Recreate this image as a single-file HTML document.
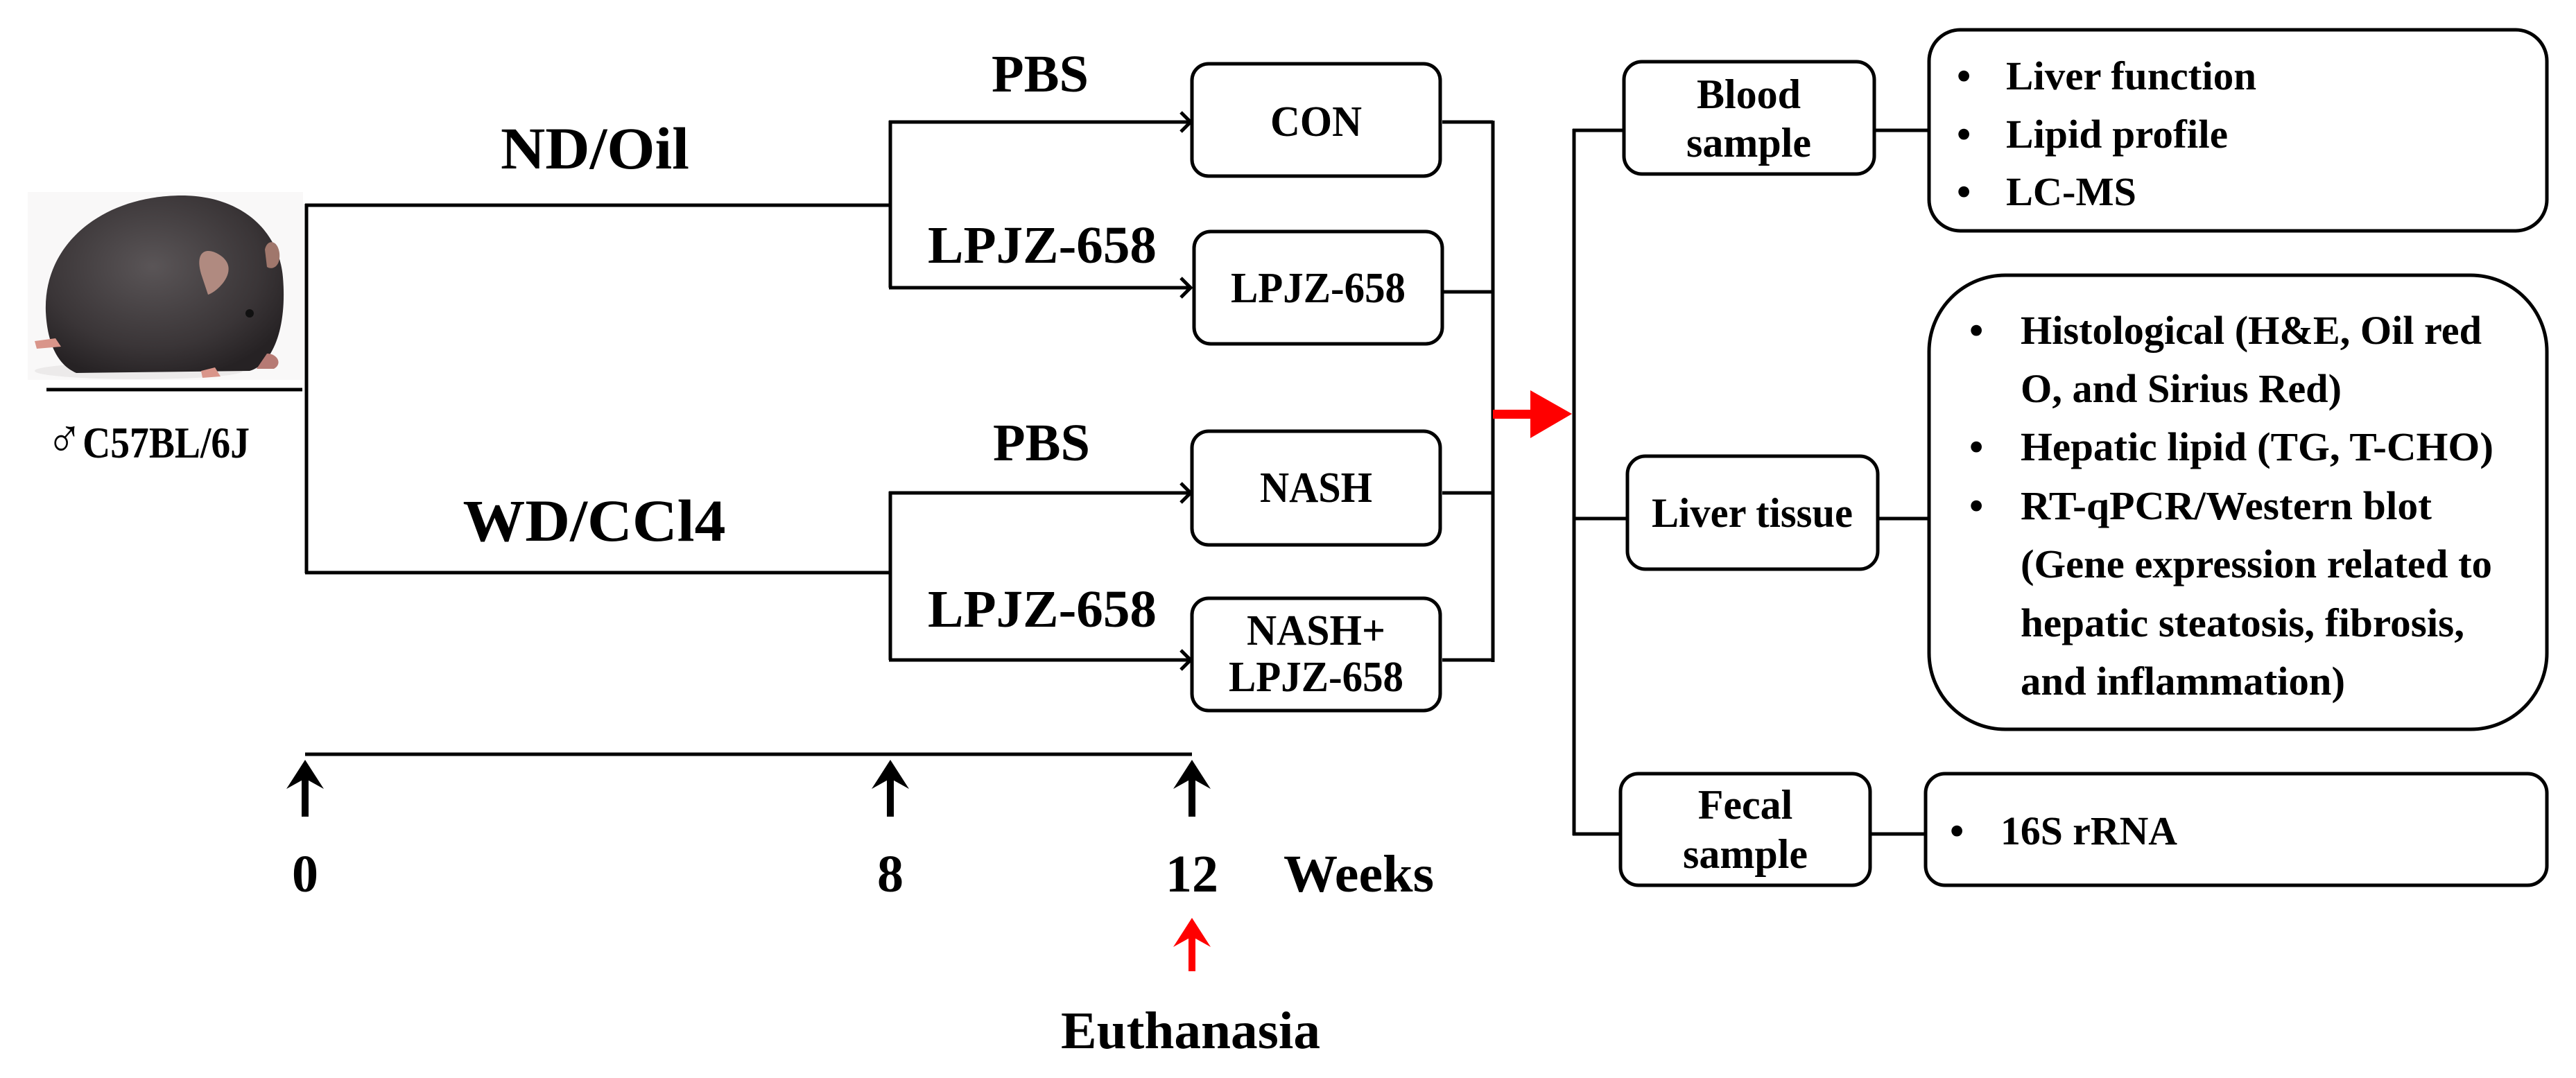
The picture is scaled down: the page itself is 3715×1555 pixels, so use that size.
<!DOCTYPE html>
<html><head><meta charset="utf-8"><style>
html,body{margin:0;padding:0;background:#fff;}
svg{display:block;}
text{font-family:"Liberation Serif",serif;font-weight:bold;fill:#000;}
</style></head><body>
<svg width="3715" height="1555" viewBox="0 0 3715 1555" xmlns="http://www.w3.org/2000/svg">
<defs>
<radialGradient id="fur" cx="0.45" cy="0.4" r="0.65">
<stop offset="0" stop-color="#5a5557"/><stop offset="0.7" stop-color="#3a3537"/><stop offset="1" stop-color="#262224"/>
</radialGradient>
</defs>
<!-- mouse -->
<rect x="40" y="277" width="397" height="271" fill="#f9f8f8"/>
<ellipse cx="200" cy="535" rx="150" ry="12" fill="#eceaea"/>
<path d="M66 450 C 62 350 150 282 262 282 C 345 282 402 330 408 400 C 414 470 395 525 360 535 L 110 538 C 80 525 68 490 66 450 Z" fill="url(#fur)"/>
<path d="M290 395 C 280 360 300 355 320 370 C 345 390 315 420 300 425 Z" fill="#b08a80"/>
<path d="M382 360 C 385 345 400 345 403 365 C 405 385 392 390 385 385 Z" fill="#a0776c"/>
<circle cx="360" cy="452" r="6" fill="#111"/>
<path d="M50 492 L 80 488 L 88 500 L 53 503 Z" fill="#d9958a"/>
<path d="M290 535 L 310 530 L 318 543 L 292 545 Z" fill="#d9958a"/>
<path d="M385 510 C 400 510 408 525 395 532 L 370 532 Z" fill="#b67a74"/>
<!-- left -->
<line x1="67" y1="562" x2="436" y2="562" stroke="#000" stroke-width="5"/>
<text x="67" y="660" font-size="64" textLength="293" lengthAdjust="spacingAndGlyphs"><tspan font-size="80" font-weight="normal">♂</tspan>C57BL/6J</text>
<g stroke="#000" stroke-width="5" fill="none">
<line x1="442" y1="294" x2="442" y2="827"/>
<line x1="440" y1="296" x2="1284" y2="296"/>
<line x1="440" y1="826" x2="1284" y2="826"/>
<line x1="1284" y1="174" x2="1284" y2="415"/>
<line x1="1284" y1="709" x2="1284" y2="952"/>
<line x1="1282" y1="176" x2="1717" y2="176"/>
<line x1="1282" y1="415" x2="1717" y2="415"/>
<line x1="1282" y1="711" x2="1717" y2="711"/>
<line x1="1282" y1="952" x2="1717" y2="952"/>
<polyline points="1703,162 1717,176 1703,190"/>
<polyline points="1703,401 1717,415 1703,429"/>
<polyline points="1703,697 1717,711 1703,725"/>
<polyline points="1703,938 1717,952 1703,966"/>
<rect x="1719" y="92" width="358" height="162" rx="24"/>
<rect x="1722" y="334" width="358" height="162" rx="24"/>
<rect x="1719" y="622" width="358" height="164" rx="24"/>
<rect x="1719" y="863" width="358" height="162" rx="24"/>
<line x1="2080" y1="176" x2="2153" y2="176"/>
<line x1="2082" y1="421" x2="2153" y2="421"/>
<line x1="2080" y1="711" x2="2153" y2="711"/>
<line x1="2080" y1="952" x2="2153" y2="952"/>
<line x1="2153" y1="174" x2="2153" y2="955"/>
<line x1="440" y1="1088" x2="1719" y2="1088"/>
<line x1="2270" y1="186" x2="2270" y2="1205"/>
<line x1="2268" y1="188" x2="2342" y2="188"/>
<line x1="2268" y1="748" x2="2347" y2="748"/>
<line x1="2268" y1="1203" x2="2337" y2="1203"/>
<rect x="2342" y="89" width="361" height="162" rx="26"/>
<rect x="2347" y="658" width="361" height="163" rx="26"/>
<rect x="2337" y="1116" width="360" height="161" rx="26"/>
<line x1="2703" y1="188" x2="2782" y2="188"/>
<line x1="2708" y1="748" x2="2782" y2="748"/>
<line x1="2697" y1="1203" x2="2777" y2="1203"/>
<rect x="2782" y="43" width="891" height="290" rx="45"/>
<rect x="2782" y="397" width="891" height="655" rx="110"/>
<rect x="2777" y="1116" width="896" height="161" rx="28"/>
</g>
<!-- red arrow -->
<rect x="2153" y="591" width="56" height="13" fill="#f00"/>
<polygon points="2207,563 2267,597 2207,632" fill="#f00"/>
<g fill="#000">
<rect x="435" y="1120" width="10" height="58"/><polygon points="440,1096 467,1138 440,1123 413,1138"/>
<rect x="1279" y="1120" width="10" height="58"/><polygon points="1284,1096 1311,1138 1284,1123 1257,1138"/>
<rect x="1714" y="1120" width="10" height="58"/><polygon points="1719,1096 1746,1138 1719,1123 1692,1138"/>
</g>
<g fill="#f00">
<rect x="1714" y="1345" width="10" height="56"/><polygon points="1719,1324 1746,1366 1719,1351 1692,1366"/>
</g>
<text x="858" y="243" font-size="86" text-anchor="middle" textLength="272" lengthAdjust="spacingAndGlyphs">ND/Oil</text>
<text x="857" y="780" font-size="86" text-anchor="middle" textLength="379" lengthAdjust="spacingAndGlyphs">WD/CCl4</text>
<text x="1430" y="132" font-size="76" textLength="140" lengthAdjust="spacingAndGlyphs">PBS</text>
<text x="1338" y="379" font-size="76" textLength="330" lengthAdjust="spacingAndGlyphs">LPJZ-658</text>
<text x="1432" y="664" font-size="76" textLength="140" lengthAdjust="spacingAndGlyphs">PBS</text>
<text x="1338" y="904" font-size="76" textLength="330" lengthAdjust="spacingAndGlyphs">LPJZ-658</text>
<text x="1898" y="196" font-size="62" text-anchor="middle" textLength="132" lengthAdjust="spacingAndGlyphs">CON</text>
<text x="1901" y="436" font-size="62" text-anchor="middle" textLength="252" lengthAdjust="spacingAndGlyphs">LPJZ-658</text>
<text x="1898" y="724" font-size="62" text-anchor="middle" textLength="162" lengthAdjust="spacingAndGlyphs">NASH</text>
<text x="1898" y="930" font-size="62" text-anchor="middle" textLength="200" lengthAdjust="spacingAndGlyphs">NASH+</text>
<text x="1898" y="997" font-size="62" text-anchor="middle" textLength="252" lengthAdjust="spacingAndGlyphs">LPJZ-658</text>
<text x="440" y="1286" font-size="76" text-anchor="middle">0</text>
<text x="1284" y="1286" font-size="76" text-anchor="middle">8</text>
<text x="1719" y="1286" font-size="76" text-anchor="middle">12</text>
<text x="1851" y="1286" font-size="76" textLength="217" lengthAdjust="spacingAndGlyphs">Weeks</text>
<text x="1530" y="1512" font-size="76" textLength="374" lengthAdjust="spacingAndGlyphs">Euthanasia</text>
<text x="2522" y="156" font-size="60" text-anchor="middle">Blood</text>
<text x="2522" y="226" font-size="60" text-anchor="middle">sample</text>
<text x="2527" y="760" font-size="60" text-anchor="middle" textLength="290" lengthAdjust="spacingAndGlyphs">Liver tissue</text>
<text x="2517" y="1181" font-size="60" text-anchor="middle">Fecal</text>
<text x="2517" y="1252" font-size="60" text-anchor="middle">sample</text>
<g font-size="58">
<text x="2822" y="129">•</text><text x="2893" y="129" textLength="361" lengthAdjust="spacingAndGlyphs">Liver function</text>
<text x="2822" y="213">•</text><text x="2893" y="213" textLength="320" lengthAdjust="spacingAndGlyphs">Lipid profile</text>
<text x="2822" y="296">•</text><text x="2893" y="296" textLength="188" lengthAdjust="spacingAndGlyphs">LC-MS</text>
<text x="2840" y="496">•</text><text x="2914" y="496" textLength="665" lengthAdjust="spacingAndGlyphs">Histological (H&amp;E, Oil red</text>
<text x="2914" y="580" textLength="463" lengthAdjust="spacingAndGlyphs">O, and Sirius Red)</text>
<text x="2840" y="664">•</text><text x="2914" y="664" textLength="682" lengthAdjust="spacingAndGlyphs">Hepatic lipid (TG, T-CHO)</text>
<text x="2840" y="749">•</text><text x="2914" y="749" textLength="593" lengthAdjust="spacingAndGlyphs">RT-qPCR/Western blot</text>
<text x="2914" y="833" textLength="680" lengthAdjust="spacingAndGlyphs">(Gene expression related to</text>
<text x="2914" y="918" textLength="640" lengthAdjust="spacingAndGlyphs">hepatic steatosis, fibrosis,</text>
<text x="2914" y="1002" textLength="468" lengthAdjust="spacingAndGlyphs">and inflammation)</text>
<text x="2812" y="1218">•</text><text x="2885" y="1218" textLength="255" lengthAdjust="spacingAndGlyphs">16S rRNA</text>
</g>
</svg>
</body></html>
